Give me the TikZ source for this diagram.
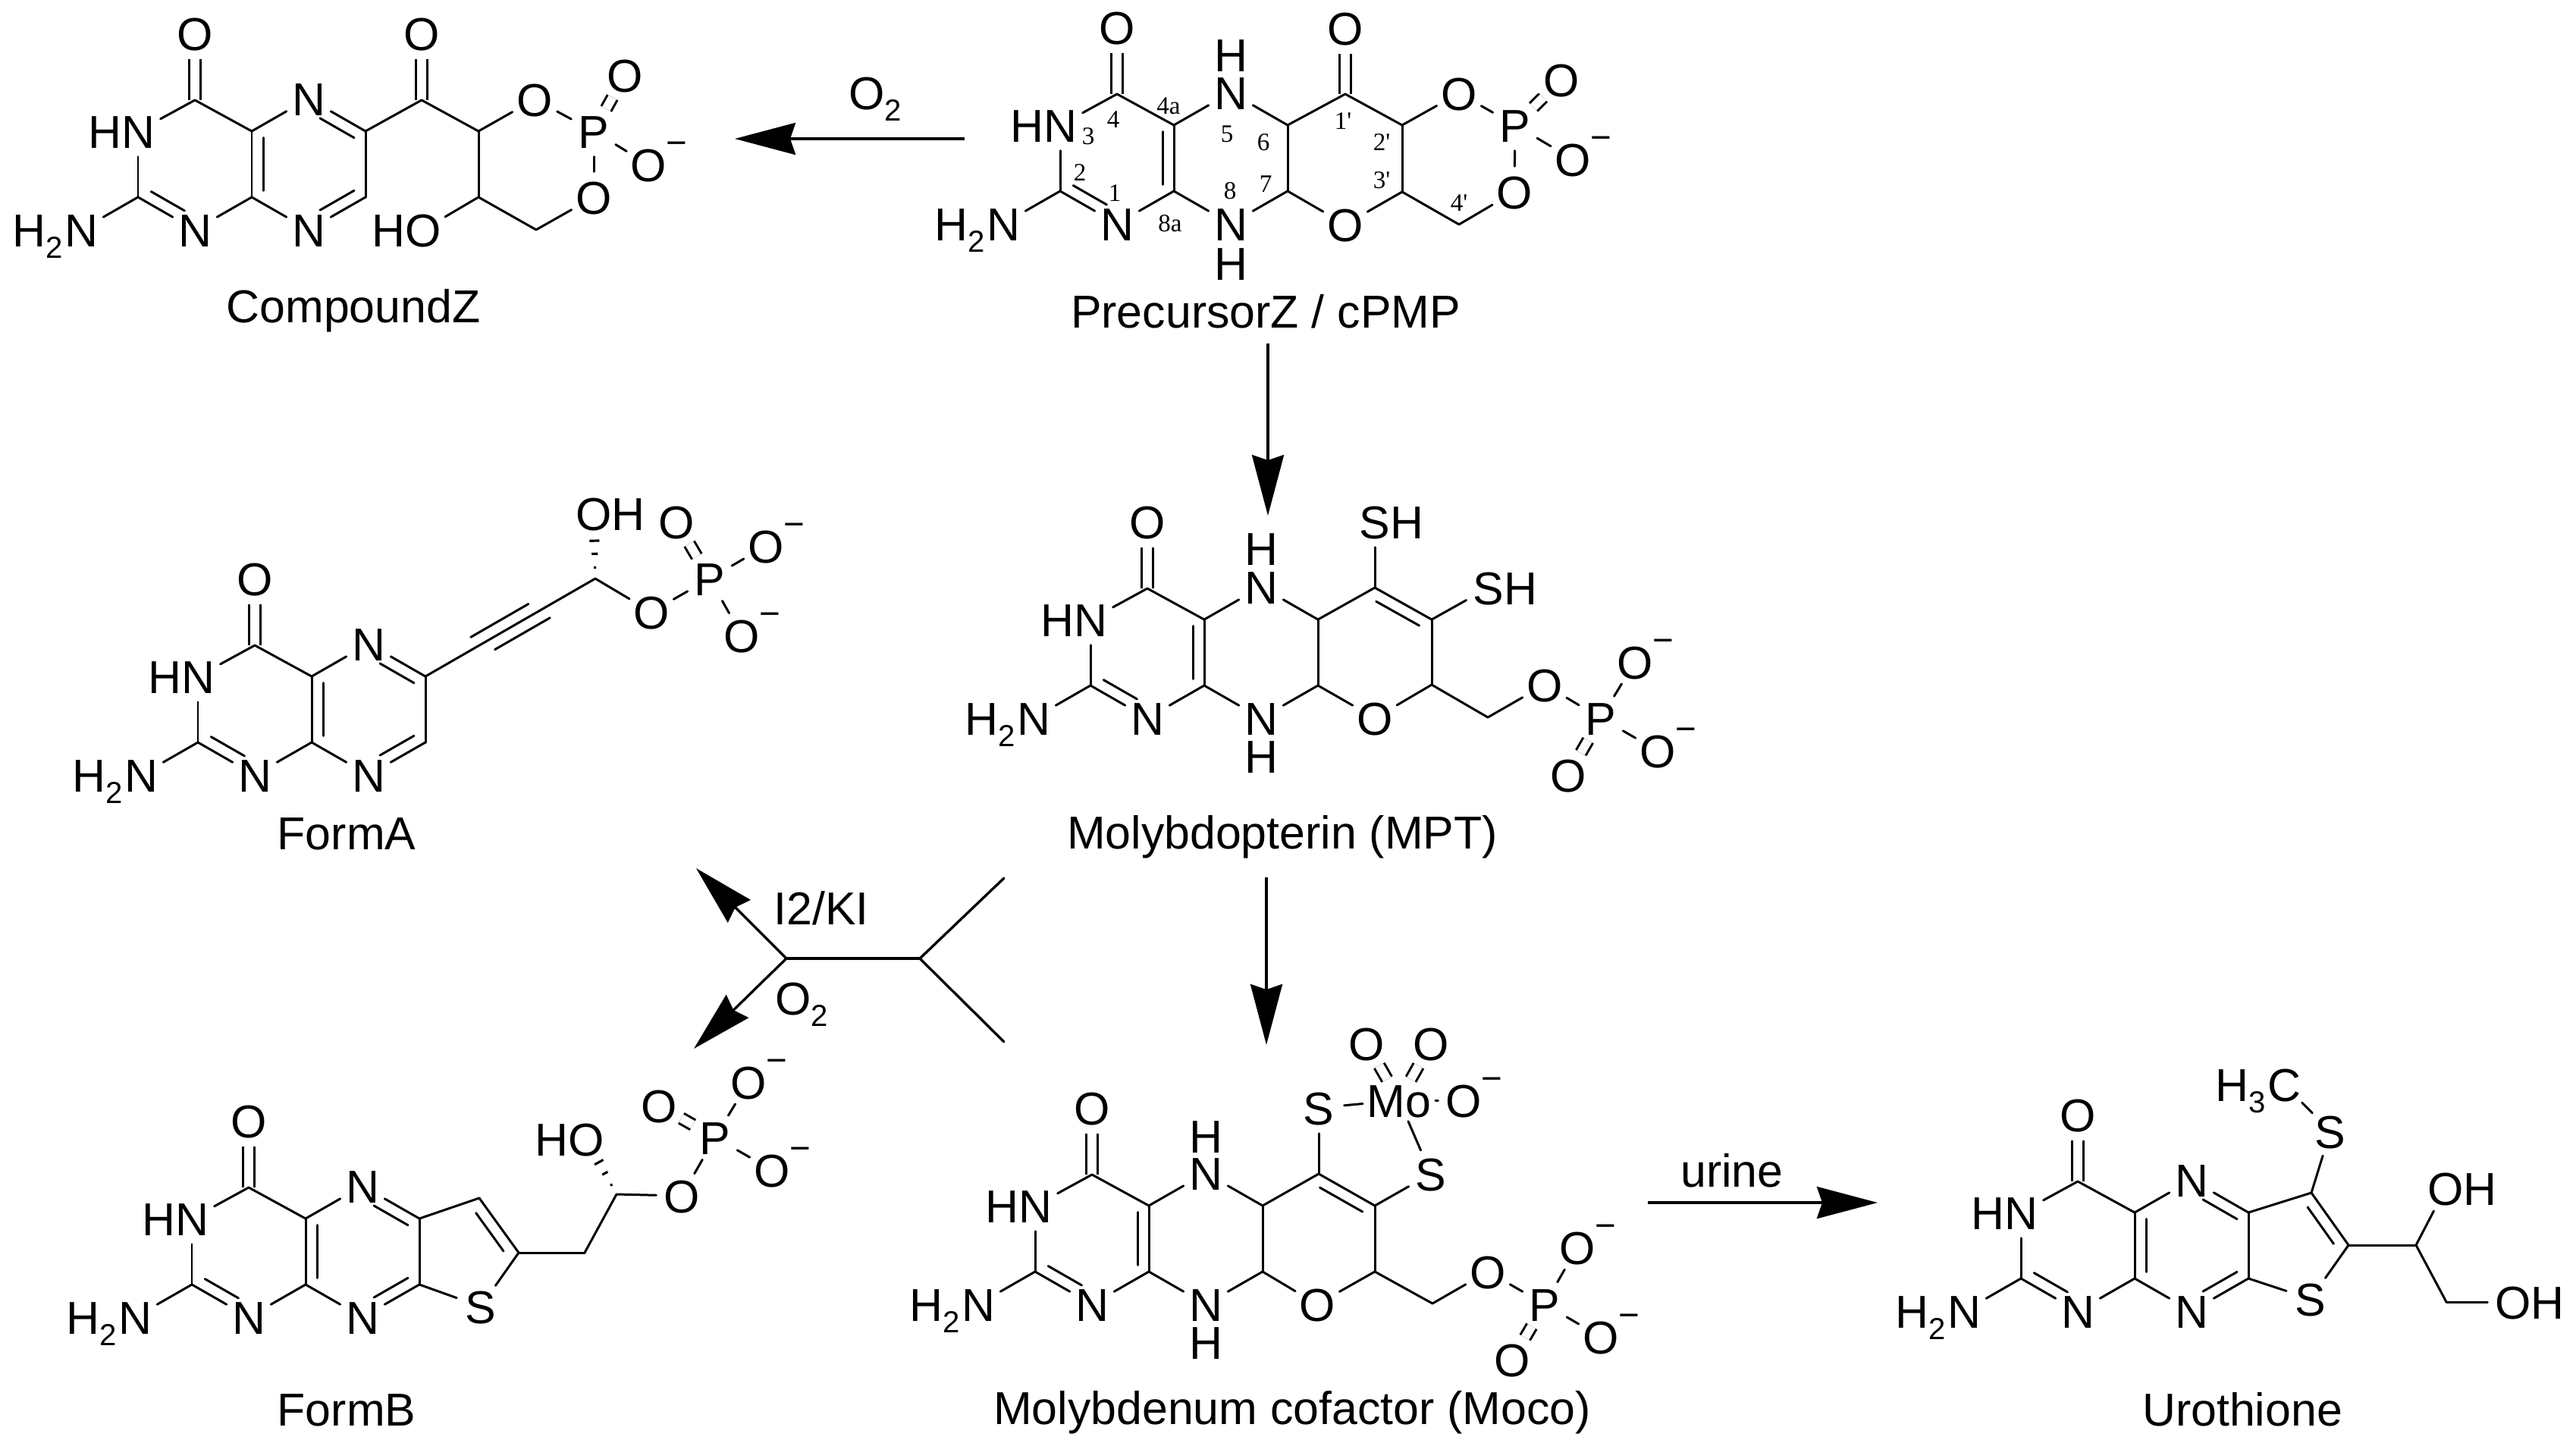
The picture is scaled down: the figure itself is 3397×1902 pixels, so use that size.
\documentclass[tikz,border=0pt]{standalone}
\usepackage{fontspec}
\setmainfont{Liberation Sans}
\newfontfamily\numf{Liberation Serif}
\usetikzlibrary{calc,arrows.meta}
\newcommand{\subs}[1]{\raisebox{-.15cm}{\fontsize{11.4}{12}\selectfont #1}\kern .02cm}
\newcommand{\chg}{\rlap{\raisebox{.35cm}{\fontsize{13.5}{14}\selectfont −}}}
\tikzset{
  atom/.style={circle,inner sep=0pt,minimum size=.66cm,text height=.44cm,text depth=0pt,font=\fontsize{17.3}{20}\selectfont},
  atomrect/.style={rectangle,inner sep=.05cm,text height=.44cm,text depth=0pt,font=\fontsize{17.3}{20}\selectfont},
  title/.style={inner sep=0pt,text height=.44cm,text depth=0pt,font=\fontsize{17.3}{20}\selectfont},
  numlab/.style={inner sep=0pt,font=\numf\fontsize{9.4}{10}\selectfont},
  bond/.style={line width=.85pt,line cap=round},
  dblbond/.style={line width=.85pt,double,double distance=.115cm},
  innerbond/.style={line width=.85pt,line cap=round},
  hash/.style={line width=.9pt},
  rxn/.style={line width=.95pt,-{Stealth[length=.8cm,width=.42cm,inset=.07cm]}},
  plainline/.style={line width=.95pt,line cap=round},
}
\newcommand{\bonds}[1]{\foreach \pa/\pb in {#1} \draw[bond] (\pa) -- (\pb);}
\newcommand{\dbond}[2]{\draw[dblbond] (#1) -- (#2);}
% inner line of a ring double bond: from a to b, fractions, side angle
\newcommand{\dblin}[5]{\draw[innerbond] ($(#1)!#3!(#2)!.15cm!#5:(#2)$) -- ($(#1)!#4!(#2)!.15cm!#5:(#2)$);}
\newcommand{\hashw}[2]{\foreach \pt/\pw in {.17/.015cm,.38/.04cm,.58/.065cm}
  \draw[hash] ($(#1)!\pt!(#2)!\pw!90:(#2)$) -- ($(#1)!\pt!(#2)!\pw!-90:(#2)$);}
% pterin skeleton: prefix, x and y of C4a, side of the inner C4a=C8a line
\newcommand{\pterin}[4]{%
  \begin{scope}[shift={(#2,#3)}]
    \coordinate (#1Ca) at (0,0);
    \coordinate (#1Cb) at (0,87);
    \coordinate (#1Cf) at (-75,-41);
    \coordinate (#1Cs) at (-150,87);
    \coordinate (#1Cg) at (150,0);
    \coordinate (#1Ch) at (150,87);
    \node[atom] (#1Oc) at (-75,-129) {O};
    \node[atom] (#1Nt) at (-150,0) {\llap{H}N};
    \node[atom] (#1Na) at (-225,130) {\llap{H\subs{2}}N};
    \node[atom] (#1Nu) at (-75,130) {N};
    \node[atom] (#1Nf) at (75,-43) {N};
    \node[atom] (#1Ne) at (75,130) {N};
  \end{scope}
  \dbond{#1Cf}{#1Oc}
  \bonds{#1Cf/#1Nt,#1Nt/#1Cs,#1Cs/#1Na,#1Cs/#1Nu,#1Nu/#1Cb,#1Cb/#1Ca,#1Ca/#1Cf,#1Ca/#1Nf,#1Nf/#1Cg,#1Cg/#1Ch,#1Ch/#1Ne,#1Ne/#1Cb}
  \dblin{#1Cs}{#1Nu}{.13}{.72}{90}
  \dblin{#1Ca}{#1Cb}{.1}{.9}{#4}
}
\begin{document}
\begin{tikzpicture}[x=.01cm,y=-.01cm]
\fill[white] (0,0) rectangle (3397,1902);
\useasboundingbox (0,0) rectangle (3397,1902);

% ---------- CompoundZ
\pterin{z}{332}{173}{90}
\dblin{zCg}{zNf}{.1}{.7}{90}
\dblin{zCh}{zNe}{.1}{.7}{-90}
\coordinate (zC1) at (556,132);
\coordinate (zC2) at (631,173);
\coordinate (zC3) at (631,260);
\coordinate (zCH) at (707,303);
\node[atom] (zO1) at (556,44) {O};
\node[atom] (zOa) at (705,131) {O};
\node[atom] (zP) at (783,173) {P};
\node[atom] (zOd) at (824,99) {O};
\node[atom] (zOm) at (855,217) {O\chg};
\node[atom] (zOb) at (783,260) {O};
\node[atom] (zOH) at (558,303) {\llap{H}O};
\dbond{zC1}{zO1}
\dbond{zP}{zOd}
\bonds{zCg/zC1,zC1/zC2,zC2/zOa,zOa/zP,zP/zOm,zP/zOb,zOb/zCH,zCH/zC3,zC3/zC2,zC3/zOH}
\node[title] (zT) at (466,403) {CompoundZ};

% ---------- PrecursorZ
\pterin{p}{1548}{165}{-90}
\coordinate (pC1) at (1774,124);
\coordinate (pC2) at (1849,165);
\coordinate (pC3) at (1849,253);
\coordinate (pCH) at (1924,296);
\node[atom] (pO1) at (1774,37) {O};
\node[atom] (pOa) at (1924,123) {O};
\node[atom] (pP) at (1998,165) {P};
\node[atom] (pOd) at (2059,105) {O};
\node[atom] (pOm) at (2074,210) {O\chg};
\node[atom] (pOb) at (1997,253) {O};
\node[atom] (pOr) at (1774,296) {O};
\node[atom] (pH5) at (1623,72) {H};
\node[atom] (pH8) at (1623,347) {H};
\dbond{pC1}{pO1}
\dbond{pP}{pOd}
\bonds{pCg/pC1,pC1/pC2,pC2/pOa,pOa/pP,pP/pOm,pP/pOb,pOb/pCH,pCH/pC3,pC3/pC2,pC3/pOr,pOr/pCh}
\node[numlab] (n4) at (1468,158) {4};
\node[numlab] (n4a) at (1541,140) {4a};
\node[numlab] (n3) at (1435,180) {3};
\node[numlab] (n5) at (1618,177) {5};
\node[numlab] (n6) at (1666,188) {6};
\node[numlab] (n1p) at (1771,160) {1'};
\node[numlab] (n2p) at (1822,188) {2'};
\node[numlab] (n2) at (1424,228) {2};
\node[numlab] (n7) at (1669,243) {7};
\node[numlab] (n3p) at (1822,238) {3'};
\node[numlab] (n1) at (1470,255) {1};
\node[numlab] (n8) at (1622,252) {8};
\node[numlab] (n4p) at (1924,268) {4'};
\node[numlab] (n8a) at (1543,295) {8a};
\node[title] (pT) at (1669,410) {PrecursorZ / cPMP};

% ---------- FormA
\pterin{a}{411}{892}{90}
\dblin{aCg}{aNf}{.1}{.7}{90}
\dblin{aCh}{aNe}{.1}{.7}{-90}
\coordinate (aCq) at (785,763);
\node[atom] (aOH) at (783,677) {O\rlap{H}};
\node[atom] (aOe) at (859,807) {O};
\node[atom] (aP) at (936,763) {P};
\node[atom] (aOd) at (892,688) {O};
\node[atom] (aOm) at (1010,720) {O\chg};
\node[atom] (aOn) at (978,838) {O\chg};
\dbond{aP}{aOd}
\bonds{aCg/aCq,aCq/aOe,aOe/aP,aP/aOm,aP/aOn}
\dblin{aCg}{aCq}{.30}{.64}{90}
\dblin{aCg}{aCq}{.375}{.70}{-90}
\hashw{aCq}{aOH}
\node[title] (aT) at (457,1098) {FormA};

% ---------- Molybdopterin
\pterin{m}{1588}{817}{-90}
\coordinate (mC1) at (1813,775);
\coordinate (mC2) at (1888,817);
\coordinate (mC3) at (1888,903);
\coordinate (mCH) at (1962,946);
\node[atom] (mS1) at (1813,688) {S\rlap{H}};
\node[atom] (mS2) at (1963,775) {S\rlap{H}};
\node[atom] (mOr) at (1813,947) {O};
\node[atom] (mOe) at (2037,903) {O};
\node[atom] (mP) at (2111,947) {P};
\node[atom] (mOm) at (2156,873) {O\chg};
\node[atom] (mOn) at (2186,990) {O\chg};
\node[atom] (mOd) at (2068,1022) {O};
\node[atom] (mH5) at (1663,723) {H};
\node[atom] (mH8) at (1663,997) {H};
\dbond{mP}{mOd}
\bonds{mCg/mC1,mC1/mC2,mC1/mS1,mC2/mS2,mC2/mC3,mC3/mOr,mOr/mCh,mC3/mCH,mCH/mOe,mOe/mP,mP/mOm,mP/mOn}
\dblin{mC1}{mC2}{.12}{.88}{-90}
\node[title] (mT) at (1691,1097) {Molybdopterin (MPT)};

% ---------- FormB
\pterin{b}{403}{1607}{90}
\dblin{bCg}{bNf}{.1}{.7}{90}
\dblin{bCh}{bNe}{.1}{.7}{-90}
\coordinate (bCi) at (632,1580);
\coordinate (bCj) at (684,1652);
\coordinate (bCH) at (771,1652);
\coordinate (bCk) at (813,1575);
\node[atom] (bS) at (634,1723) {S};
\node[atom] (bOH) at (773,1502) {\llap{H}O};
\node[atom] (bOe) at (899,1577) {O};
\node[atom] (bP) at (943,1500) {P};
\node[atom] (bOd) at (869,1458) {O};
\node[atom] (bOm) at (987,1427) {O\chg};
\node[atom] (bOn) at (1018,1543) {O\chg};
\dbond{bP}{bOd}
\bonds{bCg/bCi,bCi/bCj,bCj/bS,bS/bCh,bCj/bCH,bCH/bCk,bCk/bOe,bOe/bP,bP/bOm,bP/bOn}
\dblin{bCi}{bCj}{.15}{.85}{-90}
\hashw{bCk}{bOH}
\node[title] (bT) at (457,1858) {FormB};

% ---------- Moco
\pterin{c}{1515}{1590}{-90}
\coordinate (cC1) at (1739,1548);
\coordinate (cC2) at (1813,1590);
\coordinate (cC3) at (1813,1677);
\coordinate (cCH) at (1889,1719);
\node[atom] (cS1) at (1739,1461) {S};
\node[atomrect] (cMo) at (1845,1451) {Mo};
\node[atom] (cO1) at (1802,1376) {O};
\node[atom] (cO2) at (1887,1376) {O};
\node[atom] (cOx) at (1930,1451) {O\chg};
\node[atom] (cS2) at (1887,1548) {S};
\node[atom] (cOr) at (1737,1720) {O};
\node[atom] (cOe) at (1962,1677) {O};
\node[atom] (cP) at (2037,1720) {P};
\node[atom] (cOm) at (2080,1645) {O\chg};
\node[atom] (cOn) at (2111,1763) {O\chg};
\node[atom] (cOd) at (1994,1793) {O};
\node[atom] (cH5) at (1590,1498) {H};
\node[atom] (cH8) at (1590,1770) {H};
\dbond{cMo}{cO1}
\dbond{cMo}{cO2}
\dbond{cP}{cOd}
\bonds{cCg/cC1,cC1/cC2,cC1/cS1,cS1/cMo,cMo/cOx,cMo/cS2,cS2/cC2,cC2/cC3,cC3/cOr,cOr/cCh,cC3/cCH,cCH/cOe,cOe/cP,cP/cOm,cP/cOn}
\dblin{cC1}{cC2}{.12}{.88}{-90}
\node[title] (cT) at (1704,1856) {Molybdenum cofactor (Moco)};

% ---------- Urothione
\pterin{u}{2815}{1599}{90}
\dblin{uCg}{uNf}{.1}{.7}{90}
\dblin{uCh}{uNe}{.1}{.7}{-90}
\coordinate (uCi) at (3048,1573);
\coordinate (uCj) at (3097,1642);
\coordinate (uCk) at (3186,1642);
\coordinate (uCl) at (3226,1717);
\node[atom] (uSr) at (3047,1713) {S};
\node[atom] (uS) at (3073,1492) {S};
\node[atom] (uMe) at (3012,1430) {\llap{H\subs{3}}C};
\node[atom] (uOa) at (3225,1567) {O\rlap{H}};
\node[atom] (uOb) at (3314,1717) {O\rlap{H}};
\bonds{uCg/uCi,uCi/uCj,uCj/uSr,uSr/uCh,uCi/uS,uS/uMe,uCj/uCk,uCk/uOa,uCk/uCl,uCl/uOb}
\dblin{uCi}{uCj}{.15}{.85}{-90}
\node[title] (uT) at (2957,1858) {Urothione};

% ---------- Reaction arrows
\coordinate (r1s) at (1272,183);
\coordinate (r1e) at (969,183);
\draw[rxn] (r1s) -- (r1e);
\node[title] (r1l) at (1155,122) {O\subs{2}};
\coordinate (r2s) at (1672,453);
\coordinate (r2e) at (1672,680);
\draw[rxn] (r2s) -- (r2e);
\coordinate (r3s) at (1670,1157);
\coordinate (r3e) at (1670,1378);
\draw[rxn] (r3s) -- (r3e);
\coordinate (r4s) at (2173,1586);
\coordinate (r4e) at (2476,1586);
\draw[rxn] (r4s) -- (r4e);
\node[title] (r4l) at (2284,1543) {urine};
\coordinate (bj) at (1037,1264);
\coordinate (bk) at (1213,1264);
\coordinate (bu) at (1324,1158);
\coordinate (bd) at (1324,1374);
\coordinate (ba) at (918,1145);
\coordinate (bb) at (915,1383);
\draw[plainline] (bu) -- (bk) -- (bd);
\draw[plainline] (bk) -- (bj);
\draw[rxn] (bj) -- (ba);
\draw[rxn] (bj) -- (bb);
\node[title] (bl1) at (1083,1197) {I2/KI};
\node[title] (bl2) at (1058,1316) {O\subs{2}};
\end{tikzpicture}
\end{document}
